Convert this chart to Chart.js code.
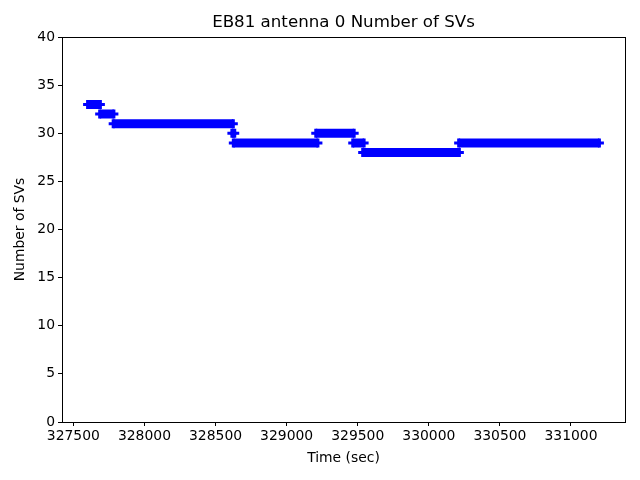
<!DOCTYPE html>
<html>
<head>
<meta charset="utf-8">
<script src="https://cdn.jsdelivr.net/npm/chart.js@4"></script>
<style>
  body { margin: 0; background: #fff; }
  #svChart { display: block; }
</style>
</head>
<body>
<canvas id="svChart" width="640" height="480"></canvas>
<script>
// each run of constant SV count: start time, end time, number of SVs
const segStart = [327600, 327685, 327780, 328615, 328625, 329205, 329465, 329535, 330210];
const segEnd   = [327690, 327785, 328625, 328635, 329220, 329475, 329545, 330215, 331200];
const segSVs   = [33, 32, 31, 30, 29, 30, 29, 28, 29];

const xTicks = [327500, 328000, 328500, 329000, 329500, 330000, 330500, 331000];
const yTicks = [0, 5, 10, 15, 20, 25, 30, 35, 40];

const points = [];
segSVs.forEach((v, i) => {
  points.push({ x: segStart[i], y: v });
  points.push({ x: segEnd[i], y: v });
  points.push({ x: segEnd[i], y: null }); // break the line between runs
});

const font = { family: 'DejaVu Sans', size: 13.9 };

// box around the plot area, like matplotlib spines
const frame = {
  id: 'frame',
  afterDraw(chart) {
    const a = chart.chartArea;
    const c = chart.ctx;
    c.save();
    c.strokeStyle = '#000';
    c.lineWidth = 1;
    c.strokeRect(Math.round(a.left) + 0.5, Math.round(a.top) + 0.5,
      Math.round(a.right - a.left), Math.round(a.bottom - a.top));
    c.restore();
  }
};

new Chart(document.getElementById('svChart').getContext('2d'), {
  type: 'scatter',
  data: {
    datasets: [{
      data: points,
      showLine: true,
      spanGaps: false,
      borderColor: '#0000ff',
      backgroundColor: '#0000ff',
      borderWidth: 9,
      borderCapStyle: 'butt',
      pointStyle: 'cross',
      pointRadius: 4.5,
      pointBorderWidth: 3,
      pointBorderColor: '#0000ff'
    }]
  },
  options: {
    responsive: false,
    animation: false,
    layout: { padding: { left: 0, right: 15, top: 0, bottom: 0 } },
    plugins: {
      legend: { display: false },
      tooltip: { enabled: false },
      title: {
        display: true,
        fullSize: false,
        text: 'EB81 antenna 0 Number of SVs',
        color: '#000',
        font: { family: 'DejaVu Sans', size: 16.67, weight: 'normal' },
        padding: { top: 13, bottom: 4 }
      }
    },
    scales: {
      x: {
        type: 'linear',
        min: 327420,
        max: 331380,
        afterFit: s => { s.height = 58; },
        afterBuildTicks: s => { s.ticks = xTicks.map(v => ({ value: v })); },
        ticks: {
          color: '#000', font: font, padding: 2, maxRotation: 0,
          includeBounds: false,
          callback: v => String(v)
        },
        grid: { drawOnChartArea: false, tickLength: 4, color: '#000' },
        border: { color: '#000' },
        title: {
          display: true, text: 'Time (sec)', color: '#000', font: font,
          padding: { top: 4, bottom: 13 }
        }
      },
      y: {
        min: 0,
        max: 40,
        afterFit: s => { s.width = 62; },
        afterBuildTicks: s => { s.ticks = yTicks.map(v => ({ value: v })); },
        ticks: { color: '#000', font: font, padding: 3 },
        grid: { drawOnChartArea: false, tickLength: 4, color: '#000' },
        border: { color: '#000' },
        title: {
          display: true, text: 'Number of SVs', color: '#000', font: font,
          padding: { top: 12, bottom: 4 }
        }
      }
    }
  },
  plugins: [frame]
});
</script>
</body>
</html>
